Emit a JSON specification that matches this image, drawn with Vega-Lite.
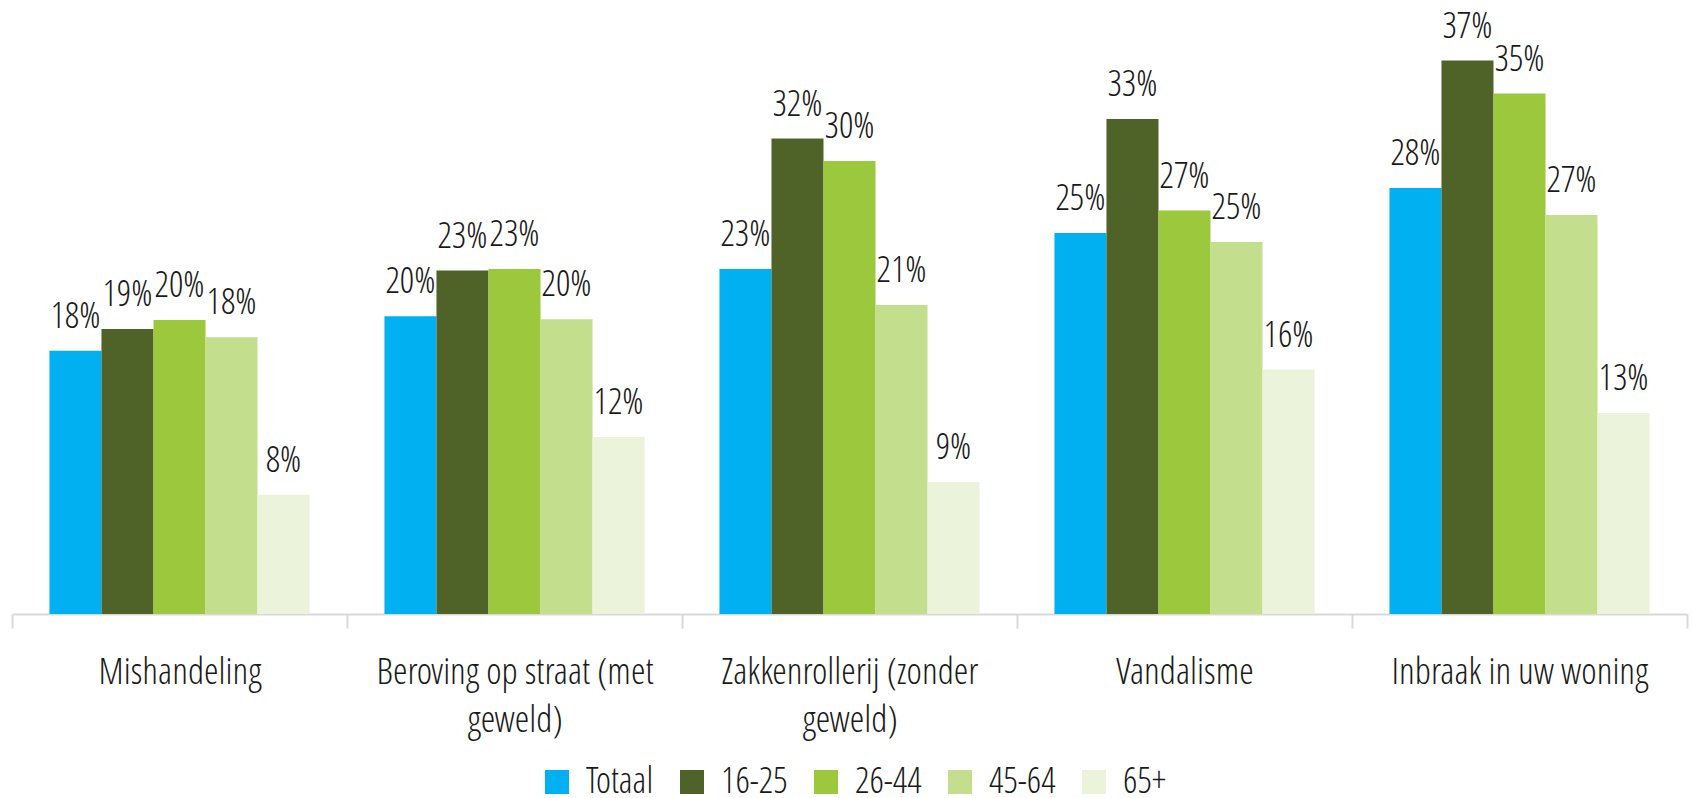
{
  "$schema": "https://vega.github.io/schema/vega-lite/v6.json",
  "width": 1675,
  "height": 600,
  "autosize": {"type": "none"},
  "padding": {"left": 12, "top": 14, "right": 5, "bottom": 184},
  "background": "white",
  "config": {
    "font": "'Open Sans Condensed Light', 'Open Sans Light Condensed', 'Liberation Sans Narrow', 'DejaVu Sans Condensed', sans-serif",
    "view": {"stroke": null},
    "text": {"font": "'Open Sans Condensed Light', 'Open Sans Light Condensed', 'Liberation Sans Narrow', 'DejaVu Sans Condensed', sans-serif", "fontWeight": 300}
  },
  "data": {
    "values": [
      {"crime": "Mishandeling", "group": "Totaal", "value": 0.1755},
      {"crime": "Mishandeling", "group": "16-25", "value": 0.190},
      {"crime": "Mishandeling", "group": "26-44", "value": 0.196},
      {"crime": "Mishandeling", "group": "45-64", "value": 0.1845},
      {"crime": "Mishandeling", "group": "65+", "value": 0.0795},
      {"crime": "Beroving op straat (met geweld)", "group": "Totaal", "value": 0.1985},
      {"crime": "Beroving op straat (met geweld)", "group": "16-25", "value": 0.229},
      {"crime": "Beroving op straat (met geweld)", "group": "26-44", "value": 0.230},
      {"crime": "Beroving op straat (met geweld)", "group": "45-64", "value": 0.1965},
      {"crime": "Beroving op straat (met geweld)", "group": "65+", "value": 0.118},
      {"crime": "Zakkenrollerij (zonder geweld)", "group": "Totaal", "value": 0.230},
      {"crime": "Zakkenrollerij (zonder geweld)", "group": "16-25", "value": 0.317},
      {"crime": "Zakkenrollerij (zonder geweld)", "group": "26-44", "value": 0.302},
      {"crime": "Zakkenrollerij (zonder geweld)", "group": "45-64", "value": 0.206},
      {"crime": "Zakkenrollerij (zonder geweld)", "group": "65+", "value": 0.088},
      {"crime": "Vandalisme", "group": "Totaal", "value": 0.254},
      {"crime": "Vandalisme", "group": "16-25", "value": 0.330},
      {"crime": "Vandalisme", "group": "26-44", "value": 0.269},
      {"crime": "Vandalisme", "group": "45-64", "value": 0.248},
      {"crime": "Vandalisme", "group": "65+", "value": 0.163},
      {"crime": "Inbraak in uw woning", "group": "Totaal", "value": 0.284},
      {"crime": "Inbraak in uw woning", "group": "16-25", "value": 0.369},
      {"crime": "Inbraak in uw woning", "group": "26-44", "value": 0.347},
      {"crime": "Inbraak in uw woning", "group": "45-64", "value": 0.266},
      {"crime": "Inbraak in uw woning", "group": "65+", "value": 0.134}
    ]
  },
  "encoding": {
    "x": {
      "field": "crime",
      "type": "nominal",
      "sort": null,
      "scale": {"paddingInner": 0, "paddingOuter": 0},
      "axis": {
        "title": null,
        "labelAngle": 0,
        "labelFontSize": 37,
        "labelFontWeight": 300,
        "labelColor": "#1a1a1a",
        "labelPadding": 26,
        "labelLimit": 500,
        "labelLineHeight": 48,
        "labelBaseline": "top",
        "labelExpr": "length(datum.label) > 22 ? [substring(datum.label, 0, lastindexof(datum.label, ' ')), substring(datum.label, lastindexof(datum.label, ' ') + 1)] : datum.label",
        "domainColor": "#d9d9d9",
        "domainWidth": 2,
        "tickColor": "#d9d9d9",
        "tickWidth": 2,
        "tickSize": 14,
        "tickBand": "extent",
        "grid": false
      }
    },
    "xOffset": {
      "field": "group",
      "type": "nominal",
      "sort": ["Totaal", "16-25", "26-44", "45-64", "65+"],
      "scale": {"paddingInner": 0, "paddingOuter": 0.72}
    },
    "y": {
      "field": "value",
      "type": "quantitative",
      "scale": {"domain": [0, 0.4]},
      "axis": null
    }
  },
  "layer": [
    {
      "mark": {"type": "bar"},
      "encoding": {
        "color": {
          "field": "group",
          "type": "nominal",
          "sort": ["Totaal", "16-25", "26-44", "45-64", "65+"],
          "scale": {
            "domain": ["Totaal", "16-25", "26-44", "45-64", "65+"],
            "range": ["#00B0F0", "#4F6228", "#9BC83C", "#C3DF8D", "#EBF3DB"]
          },
          "legend": {
            "title": null,
            "orient": "none",
            "legendX": 527,
            "legendY": 750,
            "direction": "horizontal",
            "symbolType": "square",
            "symbolSize": 576,
            "symbolStrokeWidth": 0,
            "symbolOpacity": 1,
            "labelFontSize": 36,
            "labelFontWeight": 300,
            "labelColor": "#1a1a1a",
            "labelOffset": 11,
            "columnPadding": 20
          }
        }
      }
    },
    {
      "mark": {"type": "text", "baseline": "alphabetic", "align": "center", "dy": -23, "fontSize": 36, "fontWeight": 300, "color": "#1a1a1a"},
      "encoding": {
        "text": {"field": "value", "type": "quantitative", "format": ".0%"}
      }
    }
  ]
}
